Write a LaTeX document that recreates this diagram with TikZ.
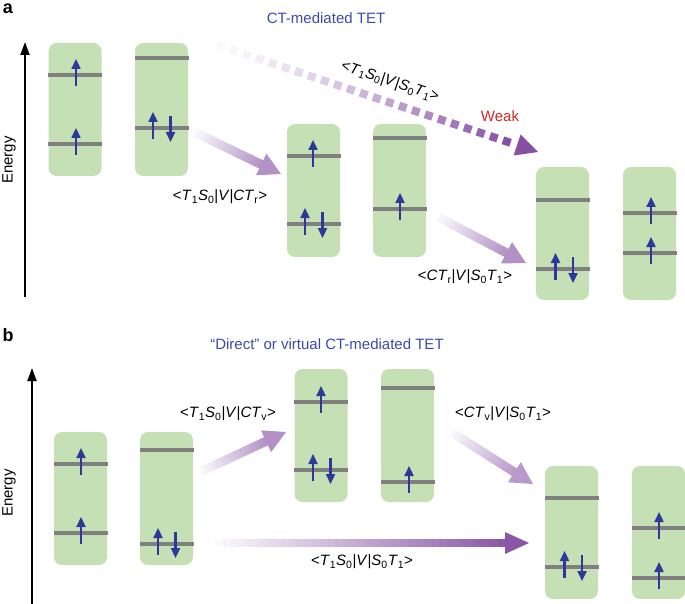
\documentclass[tikz,border=0pt]{standalone}
\usepackage{fontspec}
\setmainfont{Liberation Sans}
\usetikzlibrary{arrows.meta,calc}
\definecolor{boxgreen}{RGB}{197,224,180}
\definecolor{levelgray}{RGB}{128,128,128}
\definecolor{eblue}{RGB}{43,57,155}
\definecolor{purp}{RGB}{128,72,160}
\definecolor{titleblue}{RGB}{60,75,170}
\definecolor{weakred}{RGB}{214,40,40}
\tikzset{
  mol/.style={fill=boxgreen, draw=none, rounded corners=8pt, minimum width=53pt, minimum height=133pt, inner sep=0pt},
  level/.style={draw=levelgray, line width=3.3pt},
  el/.style={draw=eblue, line width=2.3pt, -{Triangle[length=10pt,width=9pt]}},
  axis/.style={draw=black, line width=2pt, -{Triangle[length=13pt,width=9pt]}},
  lab/.style={font=\fontsize{15}{18}\selectfont, inner sep=1pt},
  paneltag/.style={font=\fontsize{18}{20}\selectfont\bfseries, inner sep=0pt},
}
\newcommand\lv[2]{\draw[level] (#1-27,#2) -- (#1+27,#2);}
\newcommand\eup[2]{\draw[el] (#1,#2+11) -- (#1,#2-16);}
\newcommand\edown[2]{\draw[el] (#1,#2-12) -- (#1,#2+14);}
\newcommand\epair[2]{\eup{#1-8.5}{#2}\edown{#1+9}{#2}}
% #1 start, #2 tip, #3 intensity, #4 shaft width, #5 head length, #6 head half width
\newcommand\gradarrow[6]{%
  \coordinate (hb) at ($(#2)!#5!(#1)$);
  \foreach \i in {0,...,39}{
    \pgfmathsetmacro\ta{\i/40}
    \pgfmathsetmacro\tb{(\i+1.15)/40}
    \pgfmathsetmacro\c{#3*(\i+0.5)/40}
    \draw[line width=#4, purp!\c!white] ($(#1)!\ta!(hb)$) -- ($(#1)!\tb!(hb)$);
  }
  \fill[purp!#3!white] (#2) -- ($(hb)!#6!90:(#2)$) -- ($(hb)!#6!-90:(#2)$) -- cycle;
}
\begin{document}
\begin{tikzpicture}[x=1pt,y=-1pt]
\useasboundingbox (0,0) rectangle (685,604);

% ---------------- panel a ----------------
\node[paneltag] (ta) at (8,9) {a};
\node[lab, text=titleblue] (tita) at (326,18) {CT-mediated TET};
\coordinate (eab) at (25,297);
\coordinate (eat) at (25,42);
\draw[axis] (eab) -- (eat);
\node[lab, rotate=90] (ena) at (9,160) {Energy};

\node[mol] (a1) at (75,109.5) {};
\node[mol] (a2) at (161.5,109.5) {};
\node[mol] (a3) at (313.5,190.5) {};
\node[mol] (a4) at (399.5,190.5) {};
\node[mol] (a5) at (562.5,233.5) {};
\node[mol] (a6) at (649.5,233.5) {};

\lv{75}{75}\lv{75}{144}
\eup{76}{75}\eup{76}{144}
\lv{161.5}{58}\lv{161.5}{128}
\epair{161.5}{128}
\lv{313.5}{156}\lv{313.5}{224}
\eup{313}{156}\epair{313.5}{224}
\lv{399.5}{138}\lv{399.5}{209}
\eup{400}{209}
\lv{562.5}{200}\lv{562.5}{269}
\epair{564}{269}
\lv{649.5}{213}\lv{649.5}{253}
\eup{651}{213}\eup{651}{253}

% dotted weak arrow
\coordinate (ds) at (217,45);
\coordinate (de) at (538,152);
\coordinate (dhb) at ($(de)!22pt!(ds)$);
\foreach \i in {0,...,22}{
  \pgfmathsetmacro\da{\i*13.7}
  \pgfmathsetmacro\db{\i*13.7+8}
  \pgfmathsetmacro\c{3+92*(\i/22)^1.3}
  \draw[line width=8pt, purp!\c!white] ($(ds)!\da pt!(dhb)$) -- ($(ds)!\db pt!(dhb)$);
}
\fill[purp!95!white] (de) -- ($(dhb)!11pt!90:(de)$) -- ($(dhb)!11pt!-90:(de)$) -- cycle;
\node[lab, rotate=-18.4] (la3) at (390,82) {<\textit{T}\textsubscript{1}\textit{S}\textsubscript{0}|\textit{V}|\textit{S}\textsubscript{0}\textit{T}\textsubscript{1}>};
\node[lab, text=weakred] (weak) at (500,116) {Weak};

\coordinate (a1s) at (192,131);
\coordinate (a1e) at (281,174);
\gradarrow{a1s}{a1e}{60}{9pt}{22pt}{12pt}
\node[lab] (la1) at (220,197) {<\textit{T}\textsubscript{1}\textit{S}\textsubscript{0}|\textit{V}|\textit{CT}\textsubscript{r}>};

\coordinate (a2s) at (436,216);
\coordinate (a2e) at (526,263);
\gradarrow{a2s}{a2e}{60}{9pt}{22pt}{12pt}
\node[lab] (la2) at (465,277) {<\textit{CT}\textsubscript{r}|\textit{V}|\textit{S}\textsubscript{0}\textit{T}\textsubscript{1}>};

% ---------------- panel b ----------------
\node[paneltag] (tb) at (8,335) {b};
\node[lab, text=titleblue] (titb) at (327,344) {“Direct” or virtual CT-mediated TET};
\coordinate (ebb) at (32,604);
\coordinate (ebt) at (32,368);
\draw[axis] (ebb) -- (ebt);
\node[lab, rotate=90] (enb) at (9,493) {Energy};

\node[mol] (b1) at (80.5,498.5) {};
\node[mol] (b2) at (166.5,498.5) {};
\node[mol] (b3) at (321,435.5) {};
\node[mol] (b4) at (407.5,435.5) {};
\node[mol] (b5) at (571.5,532.5) {};
\node[mol] (b6) at (658.5,532.5) {};

\lv{80.5}{464}\lv{80.5}{533}
\eup{81}{464}\eup{81}{533}
\lv{166.5}{450}\lv{166.5}{544}
\epair{166.5}{544}
\lv{321}{402}\lv{321}{470}
\eup{321}{402}\epair{321.5}{470}
\lv{407.5}{388}\lv{407.5}{482}
\eup{409}{482}
\lv{571.5}{498}\lv{571.5}{567}
\epair{573}{567}
\lv{658.5}{528}\lv{658.5}{578}
\eup{659}{528}\eup{659}{578}

\coordinate (b1s) at (198,473);
\coordinate (b1e) at (286,432);
\gradarrow{b1s}{b1e}{60}{9pt}{22pt}{12pt}
\node[lab] (lb1) at (228,414) {<\textit{T}\textsubscript{1}\textit{S}\textsubscript{0}|\textit{V}|\textit{CT}\textsubscript{v}>};

\coordinate (b2s) at (448,430);
\coordinate (b2e) at (533,484);
\gradarrow{b2s}{b2e}{55}{9pt}{22pt}{12pt}
\node[lab] (lb2) at (503,414) {<\textit{CT}\textsubscript{v}|\textit{V}|\textit{S}\textsubscript{0}\textit{T}\textsubscript{1}>};

\coordinate (b3s) at (208,543);
\coordinate (b3e) at (529,543);
\gradarrow{b3s}{b3e}{92}{8pt}{24pt}{11pt}
\node[lab] (lb3) at (362,562) {<\textit{T}\textsubscript{1}\textit{S}\textsubscript{0}|\textit{V}|\textit{S}\textsubscript{0}\textit{T}\textsubscript{1}>};
\end{tikzpicture}
\end{document}
